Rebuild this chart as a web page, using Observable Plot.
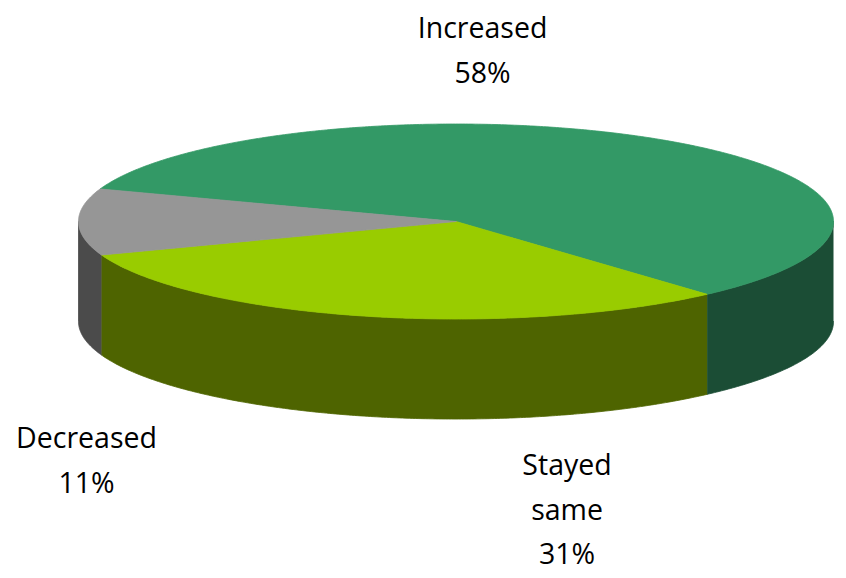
<!DOCTYPE html>
<html>
<head>
<meta charset="utf-8">
<script src="https://cdn.jsdelivr.net/npm/d3@7"></script>
<script src="https://cdn.jsdelivr.net/npm/@observablehq/plot@0.6"></script>
<style>
  html, body { margin: 0; padding: 0; background: #fff; }
  #chart { width: 846px; height: 578px; }
</style>
</head>
<body>
<div id="chart"></div>
<script>
// ---- data ----
const categories = ["Increased", "Stayed same", "Decreased"];
const percents = [58, 31, 11];
const labels = ["Increased\n58%", "Stayed\nsame\n31%", "Decreased\n11%"];

// ---- styling ----
const topColors = ["#339966", "#99cc00", "#969696"];
const sideColors = ["#1b4d35", "#4e6400", "#4b4b4b"];
const startAngle = 199.5;   // degrees, screen clockwise from 3 o'clock
const depth = 1.026;        // wall height in y-units (ry = 1)
const labelOffsets = [[-184, -134], [203, 127], [8, 194]];

// ---- geometry built from the data ----
const total = d3.sum(percents);
const slices = [];
let a = startAngle;
categories.forEach((c, i) => {
  const b = a + percents[i] / total * 360;
  slices.push({cat: c, a, b, i});
  a = b;
});
const rad = d => d * Math.PI / 180;
function arcPts(s, e, dy = 0) {
  const n = Math.max(2, Math.ceil(Math.abs(e - s) / 0.5));
  const pts = [];
  for (let k = 0; k <= n; k++) {
    const t = s + (e - s) * k / n;
    pts.push({x: Math.cos(rad(t)), y: Math.sin(rad(t)) + dy});
  }
  return pts;
}
const polys = [];
// front walls (visible where angle in [0,180] mod 360)
slices.forEach(sl => {
  for (const off of [0, 360]) {
    const s = Math.max(sl.a, off), e = Math.min(sl.b, off + 180);
    if (e > s) {
      const id = "wall-" + sl.i + "-" + off;
      const pts = arcPts(s, e).concat(arcPts(e, s, depth));
      pts.forEach(p => polys.push({...p, id, color: sideColors[sl.i]}));
    }
  }
});
// top faces
slices.forEach(sl => {
  const id = "top-" + sl.i;
  const pts = [{x: 0, y: 0}].concat(arcPts(sl.a, sl.b), [{x: 0, y: 0}]);
  pts.forEach(p => polys.push({...p, id, color: topColors[sl.i]}));
});
const labelData = slices.map(sl => {
  const m = (sl.a + sl.b) / 2;
  return {x: Math.cos(rad(m)), y: Math.sin(rad(m)), text: labels[sl.i], i: sl.i};
});

const textMarks = labelData.map(d => Plot.text([d], {
  x: "x", y: "y", text: "text",
  dx: labelOffsets[d.i][0], dy: labelOffsets[d.i][1],
  lineAnchor: "top", textAnchor: "middle", lineHeight: 1.571,
  fontSize: 28.5, fill: "#000"
}));

const chart = Plot.plot({
  width: 846, height: 578,
  margin: 0,
  x: {domain: [-1, 1], range: [78, 833], axis: null},
  y: {domain: [-1, 1], range: [123.5, 318.5], axis: null},
  color: {type: "identity"},
  style: {fontFamily: "'Open Sans', sans-serif", background: "#fff"},
  marks: [
    Plot.line(polys, {x: "x", y: "y", z: "id", fill: "color", stroke: "color", strokeWidth: 0.8, curve: "linear"}),
    ...textMarks
  ]
});
document.getElementById("chart").appendChild(chart);
</script>
</body>
</html>
